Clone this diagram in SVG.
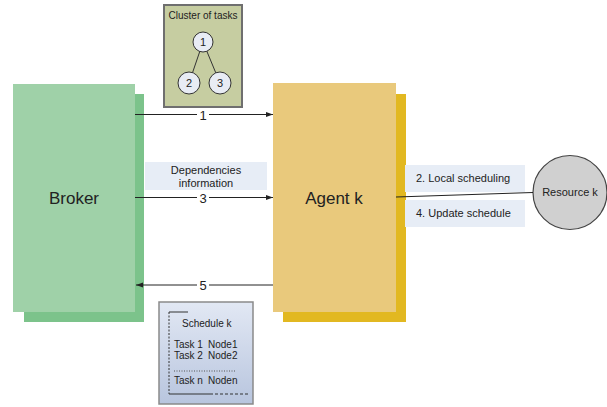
<svg xmlns="http://www.w3.org/2000/svg" width="607" height="407" viewBox="0 0 607 407">
<defs>
<style>
text{font-family:"Liberation Sans",Arial,sans-serif;fill:#222}
.lbl{font-size:11px}
.num{font-size:13px}
.big{font-size:17px}
.sm{font-size:10px}
.conn{stroke:#222;stroke-width:1;fill:none}
.tag{fill:#e7edf6}
.tc{fill:#e8ecf4;stroke:#333;stroke-width:1}
</style>
<marker id="ah" viewBox="0 0 10 10" refX="10" refY="5" markerWidth="7" markerHeight="7" orient="auto-start-reverse" markerUnits="userSpaceOnUse">
<path d="M0,1.5 L10,5 L0,8.5 z" fill="#222"/>
</marker>
<linearGradient id="sg" x1="0" y1="0" x2="0" y2="1">
<stop offset="0" stop-color="#e2e8f4"/>
<stop offset="1" stop-color="#b8c5de"/>
</linearGradient>
</defs>
<rect width="607" height="407" fill="#fff"/>

<g id="broker">
<rect x="24" y="94" width="120" height="228" fill="#7cc38b"/>
<rect x="13" y="84" width="122" height="228" fill="#9fd1a8"/>
<text class="big" x="74" y="204" text-anchor="middle">Broker</text>
</g>

<g id="agent">
<rect x="283" y="94" width="123" height="228" fill="#e2b821"/>
<rect x="273" y="83" width="123" height="229" fill="#e9c97c"/>
<text class="big" x="334" y="204" text-anchor="middle">Agent k</text>
</g>

<g id="cluster">
<rect x="164" y="5" width="78" height="102" fill="#c6cda1" stroke="#6f6f6f" stroke-width="2"/>
<text class="sm" x="203" y="19" text-anchor="middle">Cluster of tasks</text>
<line x1="203" y1="42" x2="189" y2="83" stroke="#333"/>
<line x1="203" y1="42" x2="220" y2="83" stroke="#333"/>
<circle class="tc" cx="203" cy="42" r="10"/>
<circle class="tc" cx="189" cy="83" r="11"/>
<circle class="tc" cx="220" cy="83" r="11"/>
<text class="lbl" x="203" y="46" text-anchor="middle">1</text>
<text class="lbl" x="189" y="87" text-anchor="middle">2</text>
<text class="lbl" x="220" y="87" text-anchor="middle">3</text>
</g>

<g id="dependencies">
<rect class="tag" x="145" y="162" width="122" height="28"/>
<text class="lbl" x="206" y="174" text-anchor="middle">Dependencies</text>
<text class="lbl" x="206" y="187" text-anchor="middle">information</text>
</g>

<g id="local-scheduling">
<rect class="tag" x="405" y="165" width="120" height="27"/>
<text class="lbl" x="416" y="182">2. Local scheduling</text>
</g>

<g id="update-schedule">
<rect class="tag" x="405" y="200" width="120" height="27"/>
<text class="lbl" x="416" y="217">4. Update schedule</text>
</g>

<g id="resource">
<circle cx="570" cy="192.5" r="37" fill="#d0d0d0" stroke="#444" stroke-width="1.2"/>
<text class="lbl" x="570" y="196" text-anchor="middle">Resource k</text>
</g>

<g id="schedule">
<rect x="159" y="302" width="94" height="102" fill="url(#sg)" stroke="#8a8a8a" stroke-width="1.5"/>
<line x1="169" y1="312" x2="188" y2="312" stroke="#333"/>
<line x1="169" y1="312" x2="169" y2="394" stroke="#333" stroke-dasharray="2,1.5"/>
<line x1="169" y1="394" x2="210" y2="394" stroke="#333"/>
<line x1="210" y1="394" x2="248" y2="394" stroke="#333" stroke-dasharray="3,2"/>
<text class="sm" x="182" y="327">Schedule k</text>
<text class="sm" x="174" y="348">Task 1</text>
<text class="sm" x="208" y="348">Node1</text>
<text class="sm" x="174" y="359">Task 2</text>
<text class="sm" x="208" y="359">Node2</text>
<line x1="174" y1="371" x2="236" y2="371" stroke="#555" stroke-dasharray="1,1.5"/>
<text class="sm" x="174" y="384">Task n</text>
<text class="sm" x="208" y="384">Noden</text>
</g>

<g id="connectors">
<line class="conn" x1="135" y1="114.5" x2="273" y2="114.5" marker-end="url(#ah)"/>
<rect x="197" y="109" width="12" height="12" fill="#fff"/>
<text class="num" x="203" y="119.5" text-anchor="middle">1</text>
<line class="conn" x1="135" y1="197.5" x2="273" y2="197.5" marker-end="url(#ah)"/>
<rect x="197" y="191" width="12" height="13" fill="#fff"/>
<text class="num" x="203" y="202.5" text-anchor="middle">3</text>
<line class="conn" x1="273" y1="285" x2="136" y2="285" marker-end="url(#ah)"/>
<rect x="197" y="278" width="12" height="13" fill="#fff"/>
<text class="num" x="203" y="290" text-anchor="middle">5</text>
<line class="conn" x1="396" y1="197" x2="533" y2="192.5"/>
</g>
</svg>
